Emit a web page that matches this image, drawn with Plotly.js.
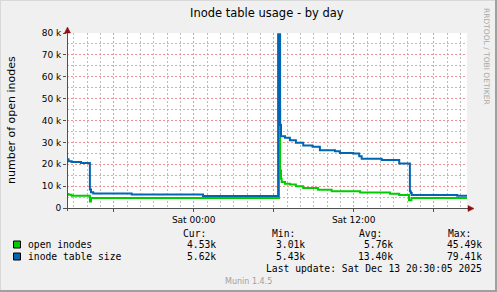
<!DOCTYPE html>
<html>
<head>
<meta charset="utf-8">
<script src="https://cdn.plot.ly/plotly-3.0.1.min.js"></script>
<style>html,body{margin:0;padding:0;background:#F0F0F0;}#chart{width:497px;height:292px;}</style>
</head>
<body>
<div id="chart"></div>
<script>
// ---- data ----
const seriesNames = ["open inodes", "inode table size"];
const seriesColors = ["#00CC00", "#0066B3"];

const openTimes = [
  "2025-12-12 14:30","2025-12-12 14:37","2025-12-12 14:51","2025-12-12 16:13","2025-12-12 16:18",
  "2025-12-13 06:24","2025-12-13 06:29","2025-12-13 06:33","2025-12-13 06:36","2025-12-13 06:51",
  "2025-12-13 07:13","2025-12-13 07:40","2025-12-13 08:13","2025-12-13 09:20","2025-12-13 10:21",
  "2025-12-13 12:29","2025-12-13 14:44","2025-12-13 15:25","2025-12-13 16:09","2025-12-13 16:20",
  "2025-12-13 20:30"];
const openValues = [
  6400, 6100, 5600, 3010, 4550,
  45490, 17200, 13400, 11900, 11100,
  10700, 9900, 9100, 8400, 7700,
  7100, 6500, 5900, 3500, 4530,
  4530];

const sizeTimes = [
  "2025-12-12 14:30","2025-12-12 14:37","2025-12-12 14:51","2025-12-12 15:33","2025-12-12 16:13",
  "2025-12-12 16:18","2025-12-12 16:28","2025-12-12 19:21","2025-12-13 00:42","2025-12-13 06:20",
  "2025-12-13 06:29","2025-12-13 06:33","2025-12-13 06:51","2025-12-13 07:13","2025-12-13 07:40",
  "2025-12-13 08:13","2025-12-13 08:55","2025-12-13 09:28","2025-12-13 10:36","2025-12-13 10:58",
  "2025-12-13 11:58","2025-12-13 12:25","2025-12-13 12:36","2025-12-13 14:06","2025-12-13 15:25",
  "2025-12-13 16:13","2025-12-13 16:17","2025-12-13 16:21","2025-12-13 19:46","2025-12-13 20:30"];
const sizeValues = [
  22300, 21400, 21000, 20600, 8500,
  7200, 6600, 6200, 5430, 79410,
  38000, 32800, 32100, 31000, 29800,
  28600, 28000, 26400, 26000, 25200,
  24900, 23700, 22500, 22000, 20400,
  7700, 6900, 5900, 5620, 5620];

const xRange = ["2025-12-12 14:30", "2025-12-13 20:30"];
const xTickVals = ["2025-12-12 18:00","2025-12-13 00:00","2025-12-13 06:00","2025-12-13 12:00","2025-12-13 18:00"];
const xTickText = ["", "Sat 00:00", "", "Sat 12:00", ""];
const yTickVals = [0,10000,20000,30000,40000,50000,60000,70000,80000];
const yTickText = ["0","10 k","20 k","30 k","40 k","50 k","60 k","70 k","80 k"];
const yMinorVals = [5000,15000,25000,35000,45000,55000,65000,75000];

const legendHeaders = ["Cur:", "Min:", "Avg:", "Max:"];
const curVals = ["4.53k", "5.62k"];
const minVals = ["3.01k", "5.43k"];
const avgVals = ["5.76k", "13.40k"];
const maxVals = ["45.49k", "79.41k"];
const lastUpdate = "Last update: Sat Dec 13 20:30:05 2025";
const titleText = "Inode table usage - by day";
const yTitle = "number of open inodes";
const sideText = "RRDTOOL / TOBI OETIKER";
const footer = "Munin 1.4.5";

// ---- layout helpers (pixel -> paper) ----
const L = 67, T = 33, PW = 400, PH = 175;
const px = x => (x - L) / PW;
const py = y => (T + PH - y) / PH;

const traces = [
  {x: [], y: [], yaxis: "y2", type: "scatter", mode: "lines", hoverinfo: "skip", showlegend: false},
  {x: openTimes, y: openValues, name: seriesNames[0], type: "scatter", mode: "lines",
   line: {color: seriesColors[0], width: 2, shape: "hv"}, hoverinfo: "skip"},
  {x: sizeTimes, y: sizeValues, name: seriesNames[1], type: "scatter", mode: "lines",
   line: {color: seriesColors[1], width: 2, shape: "hv"}, hoverinfo: "skip"}
];

const mono = {family: "DejaVu Sans Mono", size: 9.7, color: "#000"};
const ann = [];
function addText(text, x, y, xanchor, font, extra) {
  ann.push(Object.assign({text: text, x: px(x), y: py(y), xref: "paper", yref: "paper",
    xanchor: xanchor, yanchor: "middle", showarrow: false, font: font, borderpad: 0}, extra || {}));
}
addText(titleText, 267, 13, "center", {family: "DejaVu Sans", size: 11.5, color: "#000"});
addText(yTitle, 11, 120, "center", {family: "DejaVu Sans", size: 11, color: "#000"}, {textangle: -90});
addText(sideText, 487, 56, "center", {family: "DejaVu Sans", size: 7.5, color: "#A8A8A8"}, {textangle: 90});

const headerX = [182, 271, 358, 447];
legendHeaders.forEach((h, i) => addText(h, headerX[i], 233, "left", mono));
const rowsY = [244.5, 256.5];
const colRight = [217, 306, 394, 483];
for (let r = 0; r < 2; r++) {
  addText(seriesNames[r], 27, rowsY[r], "left", mono);
  [curVals, minVals, avgVals, maxVals].forEach((arr, c) => addText(arr[r], colRight[c], rowsY[r], "right", mono));
}
addText(lastUpdate, 483, 268.5, "right", mono);
addText(footer, 248, 281, "center", {family: "DejaVu Sans", size: 8, color: "#A0A0A0"});

const shapes = [];
for (let r = 0; r < 2; r++) {
  shapes.push({type: "rect", xref: "paper", yref: "paper",
    x0: px(13.5), x1: px(20.5), y0: py(rowsY[r] - 3.5), y1: py(rowsY[r] + 3.5),
    fillcolor: seriesColors[r], line: {color: "#000", width: 1}});
}
shapes.push({type: "line", xref: "paper", yref: "paper", x0: px(67.5), x1: px(67.5), y0: py(211), y1: py(29),
  line: {color: "#505050", width: 1}});
shapes.push({type: "line", xref: "paper", yref: "paper", x0: px(64), x1: px(471), y0: py(208.5), y1: py(208.5),
  line: {color: "#505050", width: 1}});
shapes.push({type: "path", xref: "paper", yref: "paper",
  path: `M ${px(64.5)} ${py(33)} L ${px(70.5)} ${py(33)} L ${px(67.5)} ${py(27)} Z`,
  fillcolor: "#8B1010", line: {color: "#8B1010", width: 0.5}});
shapes.push({type: "path", xref: "paper", yref: "paper",
  path: `M ${px(468)} ${py(205.5)} L ${px(468)} ${py(211.5)} L ${px(474)} ${py(208.5)} Z`,
  fillcolor: "#8B1010", line: {color: "#8B1010", width: 0.5}});
shapes.push({type: "line", xref: "paper", yref: "paper", x0: px(0), x1: px(497), y0: py(0.5), y1: py(0.5), line: {color: "#D8D8D8", width: 1}});
shapes.push({type: "line", xref: "paper", yref: "paper", x0: px(0.5), x1: px(0.5), y0: py(0), y1: py(292), line: {color: "#D8D8D8", width: 1}});
shapes.push({type: "line", xref: "paper", yref: "paper", x0: px(0), x1: px(497), y0: py(291), y1: py(291), line: {color: "#A0A0A0", width: 2}});
shapes.push({type: "line", xref: "paper", yref: "paper", x0: px(496), x1: px(496), y0: py(0), y1: py(292), line: {color: "#A0A0A0", width: 2}});

const majorGrid = "#E89494", minorGrid = "#BBBBBB";
const gdash = "2px,2px";
const layout = {
  width: 497, height: 292,
  margin: {l: L, r: 497 - L - PW, t: T, b: 292 - T - PH, pad: 0},
  paper_bgcolor: "#F0F0F0", plot_bgcolor: "#FFFFFF",
  showlegend: false,
  xaxis: {
    type: "date", range: xRange, tickmode: "array", tickvals: xTickVals, ticktext: xTickText,
    showgrid: true, gridcolor: majorGrid, griddash: gdash, gridwidth: 1,
    ticks: "outside", ticklen: 3, tickcolor: "#505050",
    tickfont: {family: "DejaVu Sans", size: 9, color: "#000"},
    minor: {dtick: 3600000, tick0: "2025-12-12 15:00", showgrid: true, gridcolor: minorGrid, griddash: gdash, gridwidth: 1},
    zeroline: false, showline: false, fixedrange: true
  },
  yaxis: {
    range: [0, 80000], tickmode: "array", tickvals: yTickVals, ticktext: yTickText,
    showgrid: true, gridcolor: majorGrid, griddash: gdash, gridwidth: 1,
    ticks: "outside", ticklen: 3, tickcolor: "#505050",
    tickfont: {family: "DejaVu Sans", size: 9, color: "#000"},
    zeroline: false, showline: false, fixedrange: true
  },
  yaxis2: {
    overlaying: "y", side: "left", range: [0, 80000], tickmode: "array", tickvals: yMinorVals,
    showticklabels: false, ticks: "", showgrid: true, gridcolor: minorGrid, griddash: gdash, gridwidth: 1,
    zeroline: false, showline: false, fixedrange: true
  },
  annotations: ann,
  shapes: shapes
};

Plotly.newPlot("chart", traces, layout, {staticPlot: true, displayModeBar: false});
</script>
</body>
</html>
